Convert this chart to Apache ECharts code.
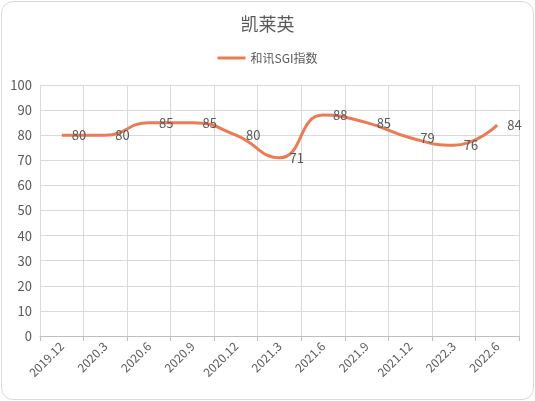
<!DOCTYPE html>
<html>
<head>
<meta charset="utf-8">
<script src="https://cdn.jsdelivr.net/npm/echarts@6/dist/echarts.min.js"></script>
<style>
html,body{margin:0;padding:0;background:#fff;}
#box{position:absolute;left:1px;top:1px;width:531px;height:397px;border:1px solid #d9d9d9;border-radius:12px;overflow:hidden;}
#chart{width:531px;height:397px;}
</style>
</head>
<body>
<div id="box"><div id="chart"></div></div>
<script>
var categories = ['2019.12','2020.3','2020.6','2020.9','2020.12','2021.3','2021.6','2021.9','2021.12','2022.3','2022.6'];
var sgValues = [80, 80, 85, 85, 80, 71, 88, 85, 79, 76, 84];
var yTicks = [0, 10, 20, 30, 40, 50, 60, 70, 80, 90, 100];

var chart = echarts.init(document.getElementById('chart'));
var option = {
    textStyle: {fontFamily: '"Noto Sans CJK SC", "Microsoft YaHei", sans-serif'},
    title: {
        text: '凯莱英',
        left: 'center',
        top: 8,
        textStyle: {fontSize: 18, fontWeight: 'normal', color: '#595959'}
    },
    legend: {
        top: 45,
        left: 'center',
        itemWidth: 28,
        itemHeight: 3,
        icon: 'rect',
        textStyle: {fontSize: 12, color: '#595959'},
        data: ['和讯SGI指数']
    },
    grid: {left: 38, right: 14, top: 83, bottom: 63},
    xAxis: {
        type: 'category',
        data: categories,
        boundaryGap: true,
        axisLine: {lineStyle: {color: '#bfbfbf'}},
        axisTick: {show: true, length: 5, lineStyle: {color: '#bfbfbf'}},
        splitLine: {show: true, lineStyle: {color: '#d9d9d9'}},
        axisLabel: {rotate: 45, color: '#595959', fontSize: 12, margin: 8, interval: 0}
    },
    yAxis: {
        type: 'value',
        min: yTicks[0],
        max: yTicks[yTicks.length - 1],
        interval: 10,
        axisLine: {show: false},
        axisTick: {show: false},
        splitLine: {lineStyle: {color: '#d9d9d9'}},
        axisLabel: {color: '#595959', fontSize: 13, margin: 8}
    },
    series: [{
        name: '和讯SGI指数',
        type: 'line',
        data: sgValues,
        smooth: 0.5,
        symbol: 'circle',
        symbolSize: 0.1,
        showSymbol: true,
        lineStyle: {color: '#EB7B55', width: 3},
        itemStyle: {color: '#EB7B55'},
        label: {show: true, position: 'right', distance: 10, color: '#595959', fontSize: 13}
    }]
};
chart.setOption(option);
</script>
</body>
</html>
